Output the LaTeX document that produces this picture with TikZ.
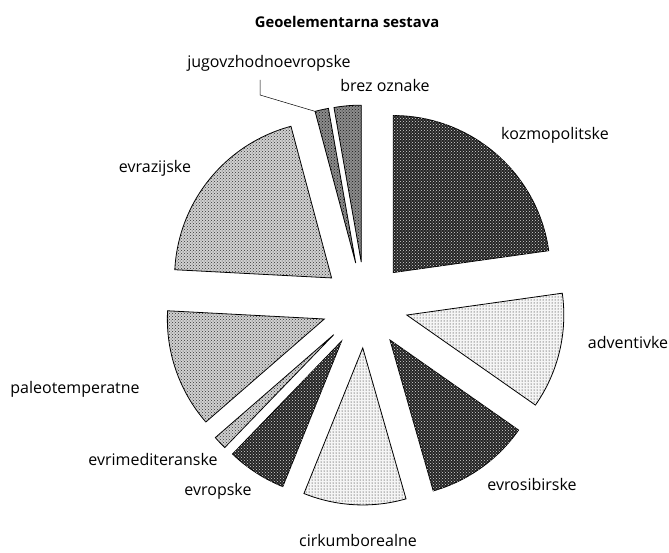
\documentclass[tikz,border=0pt]{standalone}
\usepackage{fontspec}
\setmainfont{Open Sans}
\usetikzlibrary{calc,patterns}
\tikzset{
  slice/.style={draw=black, line width=0.8pt, line join=miter},
  darkfill/.style={fill=black!86, postaction={pattern=crosshatch dots, pattern color=white!85!black}},
  midfill/.style={fill=black!45, postaction={pattern=crosshatch dots, pattern color=black!90}},
  lightfill/.style={fill=black!18, postaction={pattern=crosshatch dots, pattern color=black!80}},
  palefill/.style={fill=black!4, postaction={pattern=dots, pattern color=black}},
  lbl/.style={font=\fontsize{16}{18}\selectfont, inner sep=0pt, anchor=base},
  ttl/.style={font=\bfseries\fontsize{14.8}{17}\selectfont, inner sep=0pt, anchor=base},
  leader/.style={draw=black, line width=0.5pt}
}
\newcommand\pieslice[4]{%
  \path[slice, #4] ($(C)+({(#2+#3)/2}:43)$) -- ++(#2:157)
    arc[start angle=#2, end angle=#3, radius=157] coordinate (#1) -- cycle;}
\begin{document}
\begin{tikzpicture}[x=1pt, y=1pt]
\useasboundingbox (0,0) rectangle (669,552);
\coordinate (C) at (365,247);
\pieslice{kozmo}{8}{90}{darkfill}
\pieslice{brez}{90}{100}{midfill}
\pieslice{jugo}{100}{105}{midfill}
\pieslice{evraz}{105}{177}{lightfill}
\pieslice{paleo}{177}{221}{lightfill}
\pieslice{evrimed}{221}{226}{lightfill}
\pieslice{evrop}{226}{248}{darkfill}
\pieslice{cirkum}{248}{286}{palefill}
\pieslice{evrosib}{286}{325}{darkfill}
\pieslice{advent}{325}{368}{palefill}
\node[ttl] (title) at (347,524) {Geoelementarna sestava};
\node[lbl] (ljugo) at (269,484) {jugovzhodnoevropske};
\node[lbl] (lbrez) at (385,460) {brez oznake};
\node[lbl] (lkozmo) at (555,412) {kozmopolitske};
\node[lbl] (levraz) at (155,379) {evrazijske};
\node[lbl] (ladvent) at (628,204) {adventivke};
\node[lbl] (lpaleo) at (75,159) {paleotemperatne};
\node[lbl] (levrimed) at (153,87) {evrimediteranske};
\node[lbl] (levrop) at (218,57) {evropske};
\node[lbl] (levrosib) at (532,62) {evrosibirske};
\node[lbl] (lcirkum) at (358,5.5) {cirkumborealne};
\coordinate (bend) at (260,457);
\draw[leader] (260,472) -- (bend) -- (jugo);
\end{tikzpicture}
\end{document}
